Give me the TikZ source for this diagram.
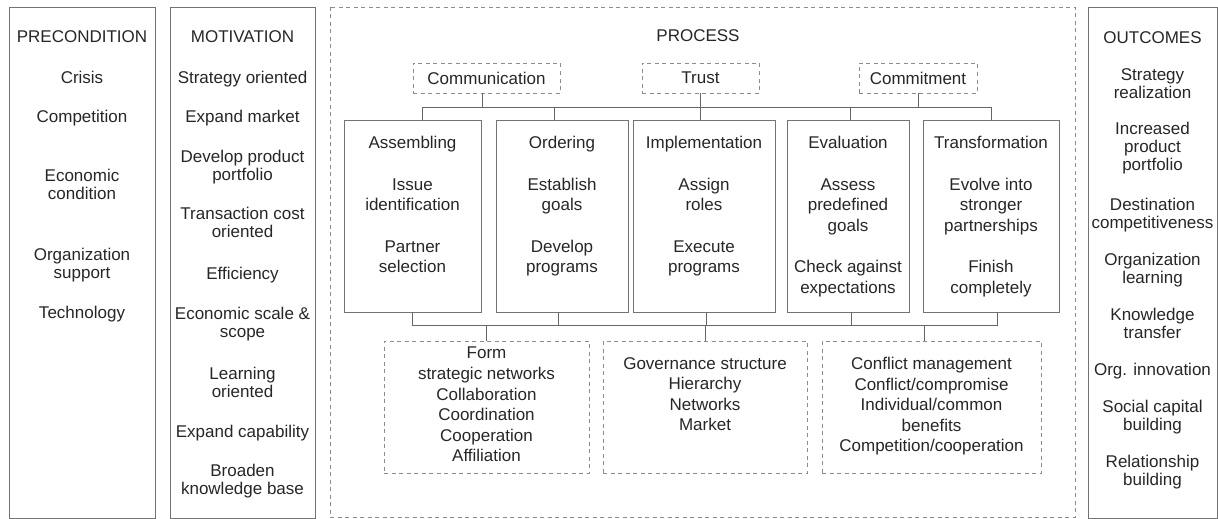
\documentclass[tikz,border=0pt]{standalone}
\usepackage{fontspec}
\setmainfont{Liberation Sans}

\begin{document}
\begin{tikzpicture}[x=1pt,y=-1pt,line width=0.9pt,
  frame/.style={draw=black!55},
  dframe/.style={draw=black!45,dash pattern=on 4pt off 3.5pt},
  link/.style={draw=black!60,line width=0.8pt},
  basetxt/.style={text=black!85,align=center,inner sep=0pt,anchor=north,
    execute at begin node=\strut},
  txt/.style={basetxt,font=\fontsize{17}{18.3}\selectfont,yshift=6.7pt},
  ptxt/.style={basetxt,font=\fontsize{17}{20.6}\selectfont,yshift=8.3pt},
  stagebox/.style={frame,minimum height=192pt,inner sep=0pt},
  tag/.style={dframe,minimum height=30pt,inner sep=0pt,text=black!85,
    font=\fontsize{17}{20}\selectfont},
  groupbox/.style={dframe,minimum height=132pt,inner sep=0pt}]
  \useasboundingbox (0,0) rectangle (1218,519);
  % precondition column
  \draw[frame] (9,7) rectangle (155,518);
  \foreach \t/\y [count=\i] in {PRECONDITION/36,Crisis/76.5,Competition/116,
    {Economic\\condition}/175,{Organization\\support}/254,Technology/312}
    \node[txt] (pre\i) at (82,\y) {\t};
  % motivation column
  \draw[frame] (170,7) rectangle (315,518);
  \foreach \t/\y [count=\i] in {MOTIVATION/36,{Strategy oriented}/77,
    {Expand market}/116,{Develop product\\portfolio}/156,
    {Transaction cost\\oriented}/213,Efficiency/273,
    {Economic scale \&\\scope}/313,{Learning\\oriented}/373,
    {Expand capability}/431,{Broaden\\knowledge base}/470}
    \node[txt] (mot\i) at (242.5,\y) {\t};
  % process panel
  \draw[dframe] (330,7) rectangle (1075,517);
  \node[txt] (proc) at (698,35) {PROCESS};
  \node[tag,minimum width=147pt] (comm) at (486.5,78) {Communication};
  \node[tag,minimum width=117pt] (trust) at (700.5,78) {Trust};
  \node[tag,minimum width=118pt] (commit) at (918,78) {Commitment};
  % five stages
  \foreach \n/\x/\w in {asm/412.5/137,ord/562/132,imp/704/142,evl/848/122,trf/991/136}
    \node[stagebox,minimum width=\w pt] (\n) at (\x,216) {};
  \node[ptxt] (asmT) at (412.5,144) {Assembling\\[21pt]Issue\\identification\\[21pt]Partner\\selection};
  \node[ptxt] (ordT) at (562,144) {Ordering\\[21pt]Establish\\goals\\[21pt]Develop\\programs};
  \node[ptxt] (impT) at (704,144) {Implementation\\[21pt]Assign\\roles\\[21pt]Execute\\programs};
  \node[ptxt] (evlT) at (848,144) {Evaluation\\[21pt]Assess\\predefined\\goals\\[21pt]Check against\\expectations};
  \node[ptxt] (trfT) at (991,144) {Transformation\\[21pt]Evolve into\\stronger\\partnerships\\[21pt]Finish\\completely};
  % upper bus
  \coordinate (topbus) at (0,107);
  \draw[link] ([xshift=10pt]asm.north) |- (topbus -| trf.north) -- (trf.north);
  \draw[link] ([xshift=-8pt]ord.north) |- (topbus -| trust.south);
  \draw[link] (trust.south) -- (trust.south |- imp.north);
  \draw[link] ([xshift=2pt]evl.north) |- (topbus -| trf.north);
  \draw[link] ([xshift=-4pt]comm.south) |- (topbus -| ord.north);
  \draw[link] (commit.south) -- (commit.south |- topbus);
  % three groups below
  \node[groupbox,minimum width=205pt] (grp1) at (486.5,407) {};
  \node[groupbox,minimum width=204pt] (grp2) at (705,407) {};
  \node[groupbox,minimum width=219pt] (grp3) at (931.5,407) {};
  \node[ptxt] (grp1T) at (486.5,355) {Form\\strategic networks\\Collaboration\\Coordination\\Cooperation\\Affiliation};
  \node[ptxt] (grp2T) at (705,365) {Governance structure\\Hierarchy\\Networks\\Market};
  \node[ptxt] (grp3T) at (931.5,365) {Conflict management\\Conflict/compromise\\Individual/common\\benefits\\Competition/cooperation};
  % lower bus
  \coordinate (lowbus) at (0,325);
  \draw[link] ([xshift=6pt]trf.south) |- (lowbus -| asm.south) -- (asm.south);
  \draw[link] ([xshift=-4pt]ord.south) -- ++(0,13);
  \draw[link] ([xshift=2pt]imp.south) |- (lowbus -| grp2.north) -- (grp2.north);
  \draw[link] ([xshift=3pt]evl.south) -- ++(0,13);
  \draw[link] (grp1.north) -- (grp1.north |- lowbus);
  \draw[link] ([xshift=-7pt]grp3.north) |- (lowbus -| evl.south);
  % outcomes column
  \draw[frame] (1088,7) rectangle (1217,518);
  \foreach \t/\y [count=\i] in {OUTCOMES/37,{Strategy\\realization}/75,
    {Increased\\product\\portfolio}/128,{Destination\\competitiveness}/204,
    {Organization\\learning}/259,{Knowledge\\transfer}/314,
    {Org. innovation}/369,{Social capital\\building}/406,
    {Relationship\\building}/461}
    \node[txt] (out\i) at (1152.5,\y) {\t};
\end{tikzpicture}
\end{document}
